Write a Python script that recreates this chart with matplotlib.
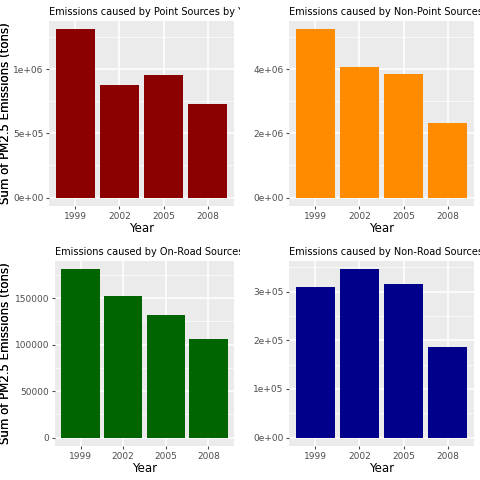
import matplotlib
matplotlib.use("Agg")
import matplotlib.pyplot as plt
from matplotlib.transforms import Bbox, TransformedBbox
from matplotlib.ticker import FuncFormatter

years = ["1999", "2002", "2005", "2008"]
point = [1.31e6, 0.876e6, 0.953e6, 0.729e6]
nonpoint = [5.24e6, 4.06e6, 3.84e6, 2.33e6]
onroad = [181000, 152000, 132000, 106000]
nonroad = [3.09e5, 3.46e5, 3.15e5, 1.86e5]

titles = ["Emissions caused by Point Sources by Year",
          "Emissions caused by Non-Point Sources by Year",
          "Emissions caused by On-Road Sources by Year",
          "Emissions caused by Non-Road Sources by Year"]
colors = ["#8B0000", "#FF8C00", "#006400", "#00008B"]
datas = [point, nonpoint, onroad, nonroad]

def sci(v, p):
    if v == 0:
        return "0e+00"
    return "%.0e" % v

fmts = [FuncFormatter(sci), FuncFormatter(sci), None, FuncFormatter(sci)]
ticks = [[0, 5e5, 1e6], [0, 2e6, 4e6], [0, 50000, 100000, 150000], [0, 1e5, 2e5, 3e5]]

W = 480
fig = plt.figure(figsize=(4.8, 4.8), dpi=100)
rects = [(49, 21, 234, 206), (289, 21, 474, 206), (55, 261, 234, 446), (289, 261, 474, 446)]
cells = [(0, 0, 240, 240), (240, 0, 480, 240), (0, 240, 240, 480), (240, 240, 480, 480)]
for i in range(4):
    l, t, r, b = rects[i]
    ax = fig.add_axes([l / W, 1 - b / W, (r - l) / W, (b - t) / W])
    ax.set_facecolor("#EBEBEB")
    ax.bar(years, datas[i], color=colors[i], width=0.9, zorder=3)
    ax.set_yticks(ticks[i])
    if fmts[i]:
        ax.yaxis.set_major_formatter(fmts[i])
    mx = max(datas[i])
    ax.set_ylim(-mx * 0.05, mx * 1.05)
    ax.set_xlim(-0.6, 3.6)
    ax.grid(True, color="white", linewidth=1.1, zorder=0)
    ax.set_yticks([(ticks[i][k] + ticks[i][k + 1]) / 2 for k in range(len(ticks[i]) - 1)]
                  + [ticks[i][-1] + (ticks[i][1] - ticks[i][0]) / 2], minor=True)
    ax.grid(True, which="minor", axis="y", color="white", linewidth=0.5, zorder=0)
    for s in ax.spines.values():
        s.set_visible(False)
    ax.tick_params(labelsize=6.5, colors="#4D4D4D", length=2.5, which="major", pad=1.5)
    ax.tick_params(which="minor", length=0)
    ax.set_xlabel("Year", fontsize=8.5, labelpad=1)
    ax.set_ylabel("Sum of PM2.5 Emissions (tons)", fontsize=8.5)
    ax.yaxis.set_label_coords((12 - l) / (r - l), 0.5)
    cl, ct, cr, cb = cells[i]
    txt = fig.text(l / W, 1 - (t - 4) / W, titles[i], fontsize=7, ha="left", va="bottom")
    bb = TransformedBbox(Bbox([[cl / W, 1 - cb / W], [cr / W, 1 - ct / W]]), fig.transFigure)
    txt.set_clip_box(bb)
    txt.set_clip_on(True)

fig.savefig("out.png", dpi=100)
